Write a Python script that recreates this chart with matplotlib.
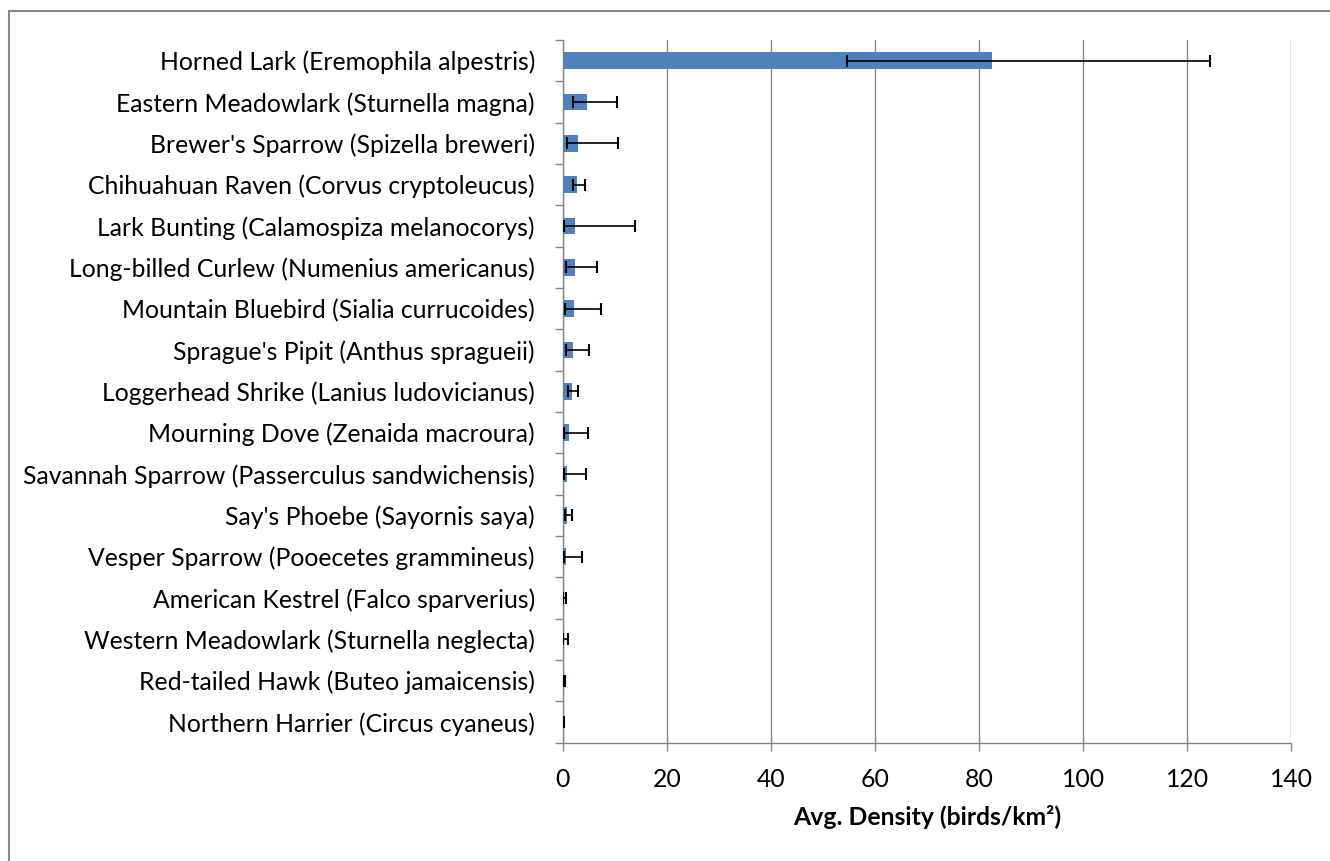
import matplotlib
matplotlib.use("Agg")
import matplotlib.pyplot as plt
from matplotlib.patches import Rectangle
from matplotlib.ticker import FixedLocator
import numpy as np

species = [
    "Horned Lark (Eremophila alpestris)",
    "Eastern Meadowlark (Sturnella magna)",
    "Brewer's Sparrow (Spizella breweri)",
    "Chihuahuan Raven (Corvus cryptoleucus)",
    "Lark Bunting (Calamospiza melanocorys)",
    "Long-billed Curlew (Numenius americanus)",
    "Mountain Bluebird (Sialia currucoides)",
    "Sprague's Pipit (Anthus spragueii)",
    "Loggerhead Shrike (Lanius ludovicianus)",
    "Mourning Dove (Zenaida macroura)",
    "Savannah Sparrow (Passerculus sandwichensis)",
    "Say's Phoebe (Sayornis saya)",
    "Vesper Sparrow (Pooecetes grammineus)",
    "American Kestrel (Falco sparverius)",
    "Western Meadowlark (Sturnella neglecta)",
    "Red-tailed Hawk (Buteo jamaicensis)",
    "Northern Harrier (Circus cyaneus)",
]
density = [82.5, 4.6, 3.0, 2.8, 2.4, 2.3, 2.1, 1.9, 1.7, 1.3, 0.8, 0.8, 0.7,
           0.2, 0.2, 0.2, 0.15]
lower = [54.7, 2.0, 0.8, 1.9, 0.3, 0.7, 0.5, 0.65, 1.1, 0.25, 0.2, 0.35, 0.2,
         0.15, 0.15, 0.1, 0.05]
upper = [124.4, 10.4, 10.7, 4.3, 13.9, 6.6, 7.35, 5.1, 2.85, 4.9, 4.4, 1.75, 3.65,
         0.6, 1.05, 0.35, 0.3]
x_ticks = [0, 20, 40, 60, 80, 100, 120, 140]

plt.rcParams["font.family"] = ["Lato", "DejaVu Sans"]

W, H = 1330, 861
fig = plt.figure(figsize=(W / 100, H / 100), dpi=100)
ax = fig.add_axes([562.7 / W, 1 - 742.7 / H, (1291.3 - 562.7) / W, (742.7 - 40) / H])

grey = "#868686"
y = np.arange(len(species))
d = np.array(density)
xerr = np.vstack([d - np.array(lower), np.array(upper) - d])

ax.barh(y, d, height=0.4, color="#4F81BD", zorder=3)
ax.errorbar(d, y, xerr=xerr, fmt="none", ecolor="black", elinewidth=1.2,
            capsize=4.2, capthick=1.5, zorder=4)

ax.set_xlim(0, 140)
ax.set_ylim(len(species) - 0.5, -0.5)
ax.xaxis.set_major_locator(FixedLocator(x_ticks))
ax.grid(axis="x", color=grey, linewidth=1.0, zorder=0)

for side in ("top", "right"):
    ax.spines[side].set_visible(False)
for side in ("left", "bottom"):
    ax.spines[side].set_color(grey)
    ax.spines[side].set_linewidth(1.0)

fs = 17.8
ax.set_yticks(y)
ax.set_yticklabels(species)
ax.yaxis.set_minor_locator(FixedLocator(np.arange(-0.5, len(species), 1.0)))
ax.tick_params(axis="y", which="major", length=0, pad=20, labelsize=fs)
ax.tick_params(axis="y", which="minor", length=5.8, color=grey, width=1.0)
ax.tick_params(axis="x", which="major", length=5.8, color=grey, width=1.0,
               pad=12.5, labelsize=fs)

ax.set_xlabel("Avg. Density (birds/km²)", fontsize=fs, fontweight="bold",
              labelpad=10)

fig.patches.append(Rectangle((8.5 / W, -0.1), 1.2, (1 - 10.5 / H) + 0.1,
                             transform=fig.transFigure, fill=False,
                             edgecolor=grey, linewidth=1.5))

fig.savefig("out.png", dpi=100, facecolor="white")
